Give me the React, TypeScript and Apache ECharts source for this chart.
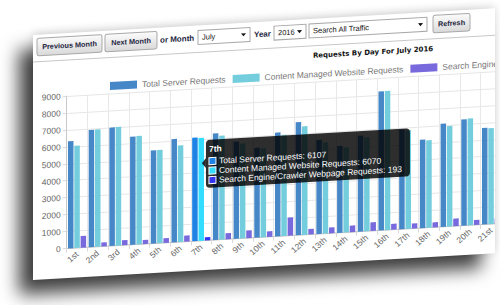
import React, { useEffect, useRef } from 'react';
import * as echarts from 'echarts';

const days = ['1st', '2nd', '3rd', '4th', '5th', '6th', '7th', '8th', '9th', '10th', '11th', '12th', '13th', '14th', '15th', '16th', '17th', '18th', '19th', '20th', '21st'];
const totalRequests = [6330, 6920, 6990, 6380, 5500, 6100, 6107, 6290, 5730, 5300, 6130, 6670, 5560, 5130, 5660, 8210, 5880, 5220, 6090, 6270, 5700];
const contentRequests = [6040, 6930, 7000, 6400, 5510, 5700, 6070, 6140, 5600, 5250, 5950, 6410, 5390, 5020, 5540, 8210, 5820, 5160, 5930, 6310, 5660];
const searchRequests = [690, 240, 300, 240, 280, 360, 193, 360, 450, 330, 1080, 330, 350, 390, 510, 350, 300, 300, 450, 300, 320];
const seriesNames = ['Total Server Requests', 'Content Managed Website Requests', 'Search Engine/Crawler Webpage Requests'];
const yMin = 0;
const yMax = 9000;
const yInterval = 1000;
const hoverIndex = 6;
const titleText = 'Requests By Day For July 2016';
const buttonLabels = ['Previous Month', 'Next Month', 'Refresh'];
const selectLabels = ['July', '2016', 'Search All Traffic'];
const fieldLabels = ['or Month', 'Year'];

const FONT = "'Liberation Sans', Arial, sans-serif";
const colors = ['#4687c8', '#73cddc', '#7869dc'];
const hiColors = ['#1f83e6', '#33ddff', '#3535f0'];

export default function App() {
  const ref = useRef<HTMLDivElement>(null);
  useEffect(() => {
    const chart = echarts.init(ref.current!, null, { renderer: 'svg' });
    const allSeries = [totalRequests, contentRequests, searchRequests];
    chart.setOption({
      animation: false,
      legend: {
        left: 72,
        top: 46,
        width: 900,
        itemWidth: 27,
        itemHeight: 8,
        itemGap: 7,
        icon: 'rect',
        textStyle: { fontSize: 8.5, color: '#777', fontFamily: FONT },
        data: seriesNames,
      },
      grid: { left: 33.7, top: 63, right: 31.6, bottom: 29.5 },
      xAxis: {
        type: 'category',
        data: days,
        boundaryGap: true,
        axisLine: { lineStyle: { color: '#c8c8c8' } },
        axisTick: { show: true, length: 4, lineStyle: { color: '#d8d8d8' } },
        splitLine: { show: true, lineStyle: { color: '#e8e8e8' } },
        axisLabel: { interval: 0, rotate: 40, fontSize: 8.5, color: '#666', fontFamily: FONT, margin: 5 },
      },
      yAxis: {
        type: 'value',
        min: yMin,
        max: yMax,
        interval: yInterval,
        axisLine: { show: true, lineStyle: { color: '#c8c8c8' } },
        axisTick: { show: true, length: 4, lineStyle: { color: '#d8d8d8' } },
        splitLine: { show: true, lineStyle: { color: '#e6e6e6' } },
        axisLabel: { fontSize: 8.5, color: '#666', fontFamily: FONT, margin: 6, formatter: (v: number) => String(v) },
      },
      series: allSeries.map((arr, i) => ({
        type: 'bar',
        name: seriesNames[i],
        barWidth: 5.5,
        barGap: '15%',
        itemStyle: { color: colors[i] },
        data: arr.map((v, j) => (j === hoverIndex ? { value: v, itemStyle: { color: hiColors[i] } } : v)),
      })),
    });

    const p = chart.convertToPixel({ xAxisIndex: 0, yAxisIndex: 0 }, [hoverIndex, 0]) as number[];
    const tx = p[0] + 4.7;
    const btnFill = new echarts.graphic.LinearGradient(0, 0, 0, 1, [
      { offset: 0, color: '#fcfcfc' },
      { offset: 1, color: '#d9d9d9' },
    ]);
    const button = (x: number, w: number, label: string) => [
      { type: 'rect', shape: { x, y: 3.5, width: w, height: 17.5, r: 2 }, style: { fill: btnFill, stroke: '#a8a8a8', lineWidth: 1 } },
      { type: 'text', x: x + w / 2, y: 12.3, style: { text: label, fill: '#1d2540', font: `bold 7.3px ${FONT}`, align: 'center', verticalAlign: 'middle' } },
    ];
    const select = (x: number, w: number, label: string) => [
      { type: 'rect', shape: { x, y: 5, width: w, height: 14 }, style: { fill: '#fff', stroke: '#a8a8a8', lineWidth: 1 } },
      { type: 'text', x: x + 4, y: 12, style: { text: label, fill: '#111', font: `7.5px ${FONT}`, verticalAlign: 'middle' } },
      { type: 'polygon', shape: { points: [[x + w - 9, 10.5], [x + w - 4, 10.5], [x + w - 6.5, 13.5]] }, style: { fill: '#111' } },
    ];
    const label = (x: number, text: string) => ({
      type: 'text', x, y: 12.5, style: { text, fill: '#1d2540', font: `bold 8px ${FONT}`, verticalAlign: 'middle' },
    });

    const tipLines = [
      `${seriesNames[0]}: ${totalRequests[hoverIndex]}`,
      `${seriesNames[1]}: ${contentRequests[hoverIndex]}`,
      `${seriesNames[2]}: ${searchRequests[hoverIndex]}`,
    ];
    const lineYs = [136.3, 145.8, 155.3];
    const tooltip: any[] = [
      { type: 'rect', z: 100, shape: { x: tx, y: 115, width: 204, height: 48, r: 4 }, style: { fill: 'rgba(0,0,0,0.82)' } },
      { type: 'polygon', z: 100, shape: { points: [[tx, 133], [tx - 4, 138], [tx, 143]] }, style: { fill: 'rgba(0,0,0,0.82)' } },
      { type: 'text', z: 101, x: tx + 3, y: 124.2, style: { text: days[hoverIndex], fill: '#fff', font: `bold 8.5px ${FONT}`, verticalAlign: 'middle' } },
    ];
    tipLines.forEach((t, i) => {
      tooltip.push({ type: 'rect', z: 101, shape: { x: tx + 3, y: lineYs[i] - 3.5, width: 7, height: 7 }, style: { fill: hiColors[i], stroke: '#fff', lineWidth: 1 } });
      tooltip.push({ type: 'text', z: 101, x: tx + 13, y: lineYs[i], style: { text: t, fill: '#fff', font: `8.5px ${FONT}`, verticalAlign: 'middle' } });
    });

    chart.setOption({
      graphic: [
        ...button(4, 65, buttonLabels[0]),
        ...button(72, 52, buttonLabels[1]),
        label(127, fieldLabels[0]),
        ...select(165, 52, selectLabels[0]),
        label(221, fieldLabels[1]),
        ...select(241, 32, selectLabels[1]),
        ...select(276, 118, selectLabels[2]),
        ...button(400, 37, buttonLabels[2]),
        { type: 'line', shape: { x1: 0, y1: 27, x2: 500, y2: 27 }, style: { stroke: '#c8c8c8', lineWidth: 1 } },
        { type: 'text', x: 340, y: 37, style: { text: titleText, fill: '#111', font: `bold 7px 'DejaVu Sans', sans-serif`, align: 'center', verticalAlign: 'middle' } },
        ...tooltip,
      ],
    });
    return () => chart.dispose();
  }, []);

  return (
    <div style={{ position: 'fixed', left: 0, top: 0, width: 500, height: 305, background: '#fff', overflow: 'hidden' }}>
      <div
        style={{
          position: 'absolute',
          left: 33,
          top: 35,
          width: 462,
          height: 245,
          background: '#fff',
          transform: 'skewY(-3.3deg)',
          transformOrigin: '0 0',
          boxShadow: '-14px 14px 18px rgba(0,0,0,0.75), 0 -2px 8px rgba(0,0,0,0.15)',
          overflow: 'hidden',
        }}
      >
        <div ref={ref} style={{ width: 500, height: 245 }} />
      </div>
    </div>
  );
}
